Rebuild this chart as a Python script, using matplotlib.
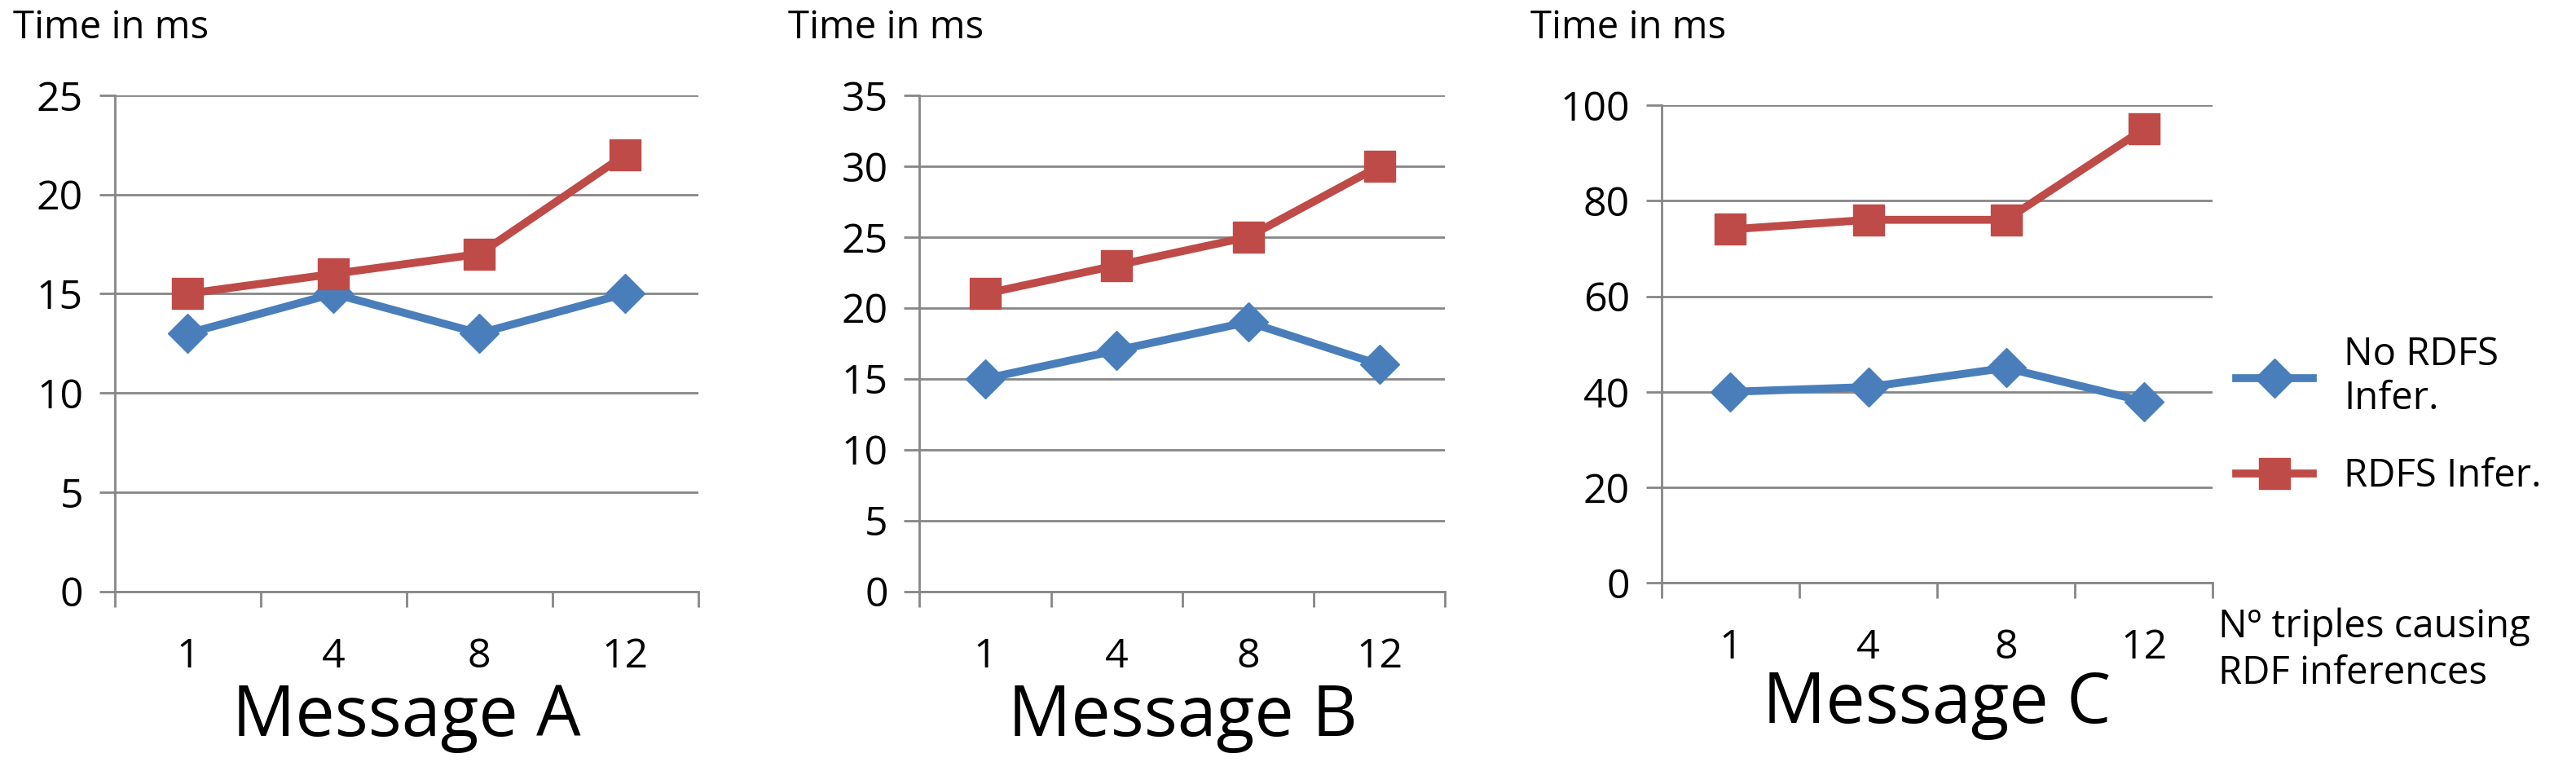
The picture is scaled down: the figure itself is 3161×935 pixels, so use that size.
import matplotlib
matplotlib.use("Agg")
import matplotlib.pyplot as plt

categories = ["1", "4", "8", "12"]
no_rdfs = {"A": [13, 15, 13, 15], "B": [15, 17, 19, 16], "C": [40, 41, 45, 38]}
rdfs = {"A": [15, 16, 17, 22], "B": [21, 23, 25, 30], "C": [74, 76, 76, 95]}
y_max = {"A": 25, "B": 35, "C": 100}
y_step = {"A": 5, "B": 5, "C": 20}

BLUE = "#4A7EBB"
RED = "#BE4B48"
GRID = "#868686"

plt.rcParams["font.family"] = ["Open Sans", "DejaVu Sans"]

fig = plt.figure(figsize=(31.61, 9.35), dpi=100)
boxes = {
    "A": (0.0446, 0.224, 0.2264, 0.651),
    "B": (0.357, 0.224, 0.204, 0.651),
    "C": (0.645, 0.235, 0.214, 0.627),
}
title_x = {"A": 0.005, "B": 0.306, "C": 0.594}

for key, box in boxes.items():
    ax = fig.add_axes(box)
    x = range(1, len(categories) + 1)
    l1, = ax.plot(x, no_rdfs[key], color=BLUE, lw=7, marker="D", ms=24)
    l2, = ax.plot(x, rdfs[key], color=RED, lw=7, marker="s", ms=28)
    ax.set_xlim(0.5, len(categories) + 0.5)
    ax.set_ylim(0, y_max[key])
    ax.set_yticks(range(0, y_max[key] + 1, y_step[key]))
    ax.set_xticks([i + 0.5 for i in range(len(categories) + 1)])
    ax.set_xticklabels([])
    ax.set_xticks(list(x), minor=True)
    ax.set_xticklabels(categories, minor=True)
    ax.tick_params(axis="x", which="minor", length=0, labelsize=36, pad=40)
    ax.tick_params(axis="x", which="major", direction="out", length=14, width=2, color=GRID)
    ax.tick_params(axis="y", length=14, width=2, color=GRID, labelsize=36, pad=14)
    ax.grid(axis="y", color=GRID, lw=2)
    ax.set_axisbelow(True)
    for s in ("top", "right"):
        ax.spines[s].set_visible(False)
    for s in ("left", "bottom"):
        ax.spines[s].set_color(GRID)
        ax.spines[s].set_linewidth(2)
    fig.text(title_x[key], 0.963, "Time in ms", fontsize=34, va="center")
    ax.text(0.5, -0.255, f"Message {key}", transform=ax.transAxes, ha="center", va="center", fontsize=62)

fig.legend([l1, l2], ["No RDFS\nInfer.", "RDFS Infer."], loc="center left",
           bbox_to_anchor=(0.862, 0.455), frameon=False, fontsize=34,
           handlelength=2.0, labelspacing=1.0, borderaxespad=0)
fig.text(0.861, 0.147, "Nº triples causing\nRDF inferences", fontsize=34, va="center", linespacing=1.25)

fig.savefig("out.png", dpi=100)
